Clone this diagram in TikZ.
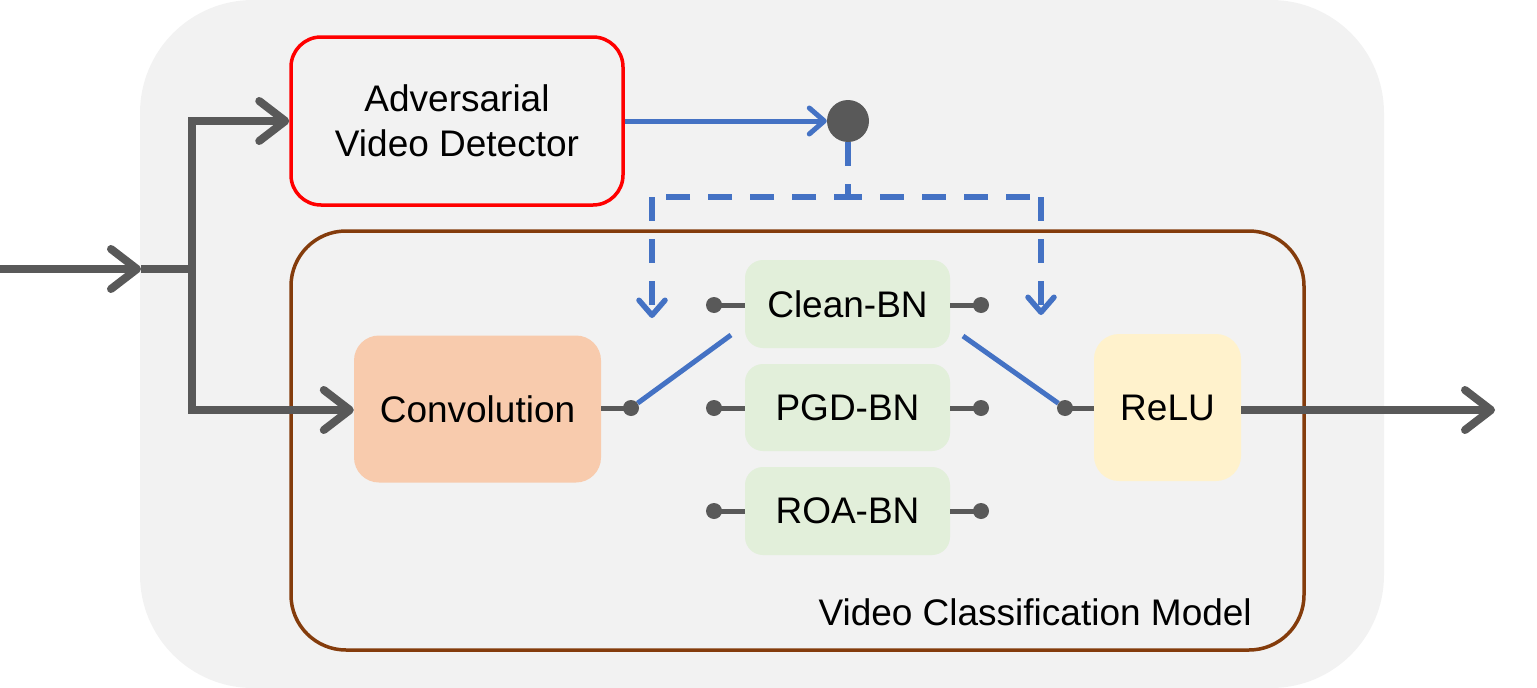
\documentclass[tikz,border=0pt]{standalone}
\usepackage{fontspec}
\setmainfont{Liberation Sans}
\usetikzlibrary{arrows.meta}
\definecolor{bgc}{HTML}{F2F2F2}
\definecolor{gry}{HTML}{595959}
\definecolor{blu}{HTML}{4472C4}
\definecolor{brn}{HTML}{843C0C}
\definecolor{convc}{HTML}{F8CBAD}
\definecolor{reluc}{HTML}{FFF2CC}
\definecolor{bnc}{HTML}{E2EFDA}
\begin{document}
\begin{tikzpicture}[x=1pt,y=-1pt,
  txt/.style={font=\fontsize{37}{45}\selectfont, text=black, align=center, inner sep=0pt},
  blk/.style={txt, rounded corners=25pt},
  bnbox/.style={txt, fill=bnc, rounded corners=18pt, minimum width=205pt, minimum height=88pt},
  gdot/.style={circle, fill=gry, minimum size=16pt, inner sep=0pt},
  bigline/.style={gry, line width=8pt},
  bigarrow/.style={gry, line width=8pt, -{Straight Barb[length=26pt,width=40pt,round]}},
  wire/.style={gry, line width=5pt},
  bwire/.style={blu, line width=5pt},
  barrow/.style={blu, line width=5pt, -{Straight Barb[length=15pt,width=26pt,round]}},
  bdash/.style={blu, line width=5.5pt, dash pattern=on 24pt off 18pt}
]
\useasboundingbox (0,0) rectangle (1537,688);
% background
\fill[bgc, rounded corners=113pt] (140,0) rectangle (1384,688);

% frames
\node[draw=brn, line width=3.5pt, rounded corners=55pt, minimum width=1013pt, minimum height=419pt, inner sep=0pt] (vcm) at (797.5,440.5) {};
\node[txt, anchor=base east] (vcmlabel) at (1252,625) {Video Classification Model};
\node[blk, draw=red, line width=3.5pt, rounded corners=30pt, minimum width=332pt, minimum height=168pt] (det) at (457,121) {Adversarial\\Video Detector};

% blocks
\node[blk, fill=convc, minimum width=247pt, minimum height=147pt] (conv) at (477.5,409) {Convolution};
\node[blk, fill=reluc, minimum width=147pt, minimum height=147pt] (relu) at (1167.5,407.5) {ReLU};
\node[bnbox] (clean) at (847.5,304) {Clean-BN};
\node[bnbox, minimum height=87pt] (pgd) at (847.5,407.5) {PGD-BN};
\node[bnbox] (roa) at (847.5,511) {ROA-BN};

% dots
\node[gdot] (cl) at (714,305) {};
\node[gdot] (cr) at (981,305) {};
\node[gdot] (pl) at (714,408) {};
\node[gdot] (pr) at (981,408) {};
\node[gdot] (rl) at (714,511) {};
\node[gdot] (rr) at (981,511) {};
\node[gdot] (co) at (631,408) {};
\node[gdot] (ri) at (1065,408) {};
\node[circle, fill=gry, minimum size=42pt, inner sep=0pt] (sel) at (848,121) {};

\draw[wire] (cl.center) -- (clean.west |- cl);
\draw[wire] (cr.center) -- (clean.east |- cr);
\draw[wire] (pl.center) -- (pgd.west |- pl);
\draw[wire] (pr.center) -- (pgd.east |- pr);
\draw[wire] (rl.center) -- (roa.west |- rl);
\draw[wire] (rr.center) -- (roa.east |- rr);
\draw[wire] (conv.east |- co) -- (co.center);
\draw[wire] (ri.center) -- (relu.west |- ri);

% switches
\coordinate (swl) at (731,335);
\coordinate (swr) at (963,336);
\draw[bwire] (co) -- (swl);
\draw[bwire] (swr) -- (ri);

% detector to selector
\draw[barrow] (det.east |- sel) -- (sel.west);

% dashed control
\coordinate (dj) at (848,197);
\coordinate (dl) at (652,197);
\coordinate (dr) at (1041,197);
\coordinate (tl) at (652,318);
\coordinate (tr) at (1041,315);
\draw[bdash] (sel.south) -- (dj);
\draw[bdash, dash phase=10pt] (dj) -- (dl);
\draw[bdash, dash phase=10pt] (dj) -- (dr);
\draw[bdash, -{Straight Barb[length=15pt,width=26pt,round]}] (dl) -- (tl);
\draw[bdash, -{Straight Barb[length=15pt,width=26pt,round]}] (dr) -- (tr);

% input paths
\coordinate (in) at (0,269);
\coordinate (inTip) at (141,269);
\coordinate (jn) at (192,269);
\coordinate (jt) at (192,121);
\coordinate (jb) at (192,410);
\coordinate (out) at (1495,410);
\draw[bigarrow] (in) -- (inTip);
\draw[bigline] (inTip) -- (jn);
\draw[bigline, line cap=rect] (jt) -- (jb);
\draw[bigarrow] (jt) -- (det.west |- jt);
\draw[bigarrow] (jb) -- (conv.west |- jb);
\draw[bigarrow] (relu.east |- out) -- (out);
\end{tikzpicture}
\end{document}
